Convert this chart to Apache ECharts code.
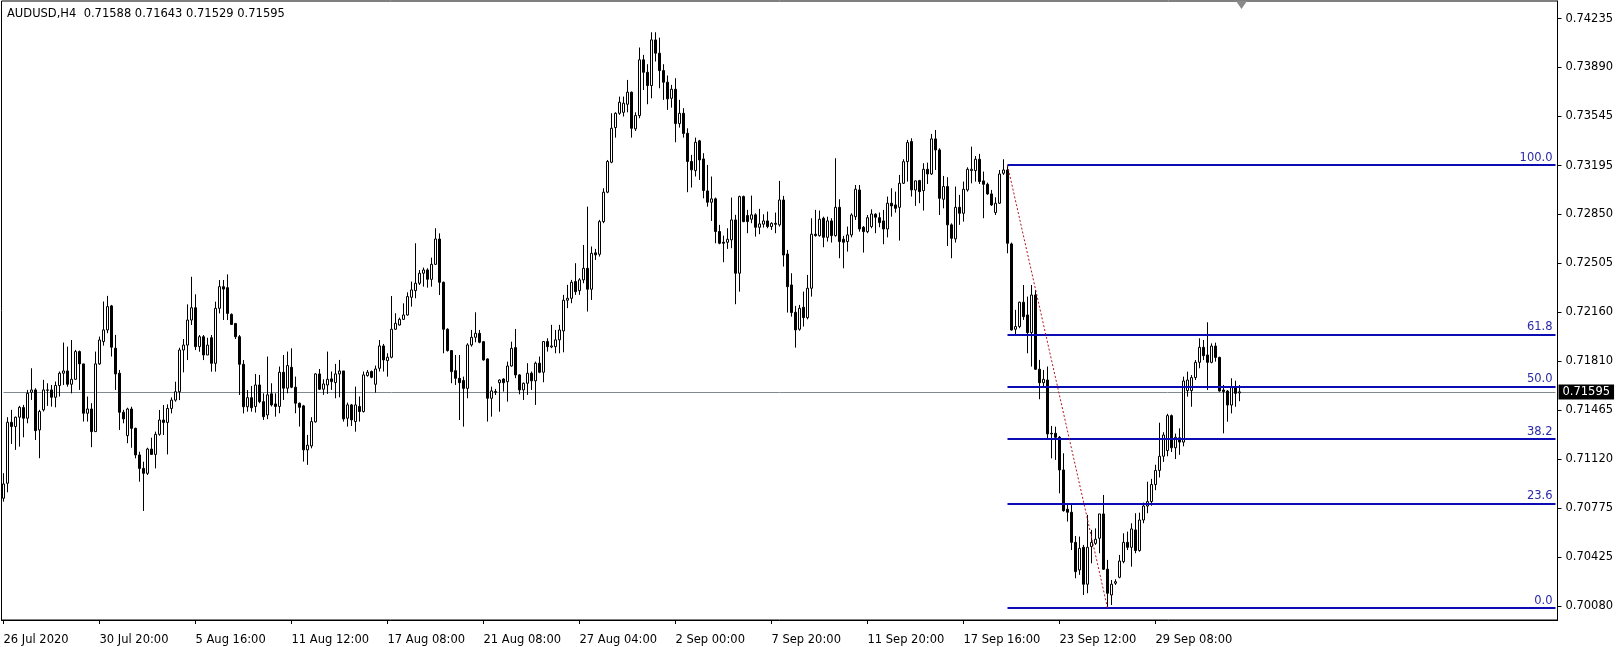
<!DOCTYPE html>
<html>
<head>
<meta charset="utf-8">
<script src="https://cdn.jsdelivr.net/npm/echarts@6/dist/echarts.min.js"></script>
<style>
html,body{margin:0;padding:0;background:#fff;}
#c{width:1619px;height:647px;}
</style>
</head>
<body>
<div id="c"></div>
<script>
const titleText = 'AUDUSD,H4  0.71588 0.71643 0.71529 0.71595';

const open = [
0.70843,0.70949,0.7138,0.7135,0.71416,0.71484,0.71409,0.71592,0.71609,0.71326,
0.71468,0.71609,0.71609,0.71557,0.7164,0.71727,0.71743,0.71649,0.71684,0.7188,
0.71793,0.71444,0.71474,0.71314,0.71793,0.71951,0.72033,0.72203,0.71904,0.71727,
0.71451,0.71286,0.71474,0.71337,0.71149,0.71054,0.71019,0.71191,0.71153,0.71295,
0.71396,0.71379,0.71478,0.71537,0.71596,0.71891,0.71926,0.72103,0.7219,0.71915,
0.71985,0.71856,0.71978,0.71797,0.72186,0.72339,0.72332,0.72143,0.72079,0.71985,
0.7179,0.7149,0.71554,0.71492,0.71644,0.71526,0.71432,0.71581,0.7151,0.71492,
0.71734,0.71621,0.71769,0.71628,0.71515,0.71496,0.71185,0.71213,0.71383,0.71722,
0.71614,0.71644,0.71687,0.71661,0.71722,0.71743,0.71409,0.71503,0.71385,0.71492,
0.71456,0.7171,0.71739,0.71649,0.71762,0.7192,0.71816,0.7184,0.72038,0.72068,
0.72108,0.72139,0.72264,0.72311,0.72363,0.72434,0.72457,0.72391,0.72497,0.72676,
0.7237,0.72038,0.71887,0.71745,0.71691,0.71675,0.7162,0.71927,0.71981,0.72009,
0.7195,0.71828,0.7155,0.71597,0.7166,0.71686,0.71667,0.71778,0.71908,0.71715,
0.71609,0.71656,0.71727,0.71673,0.71798,0.71734,0.71951,0.71913,0.71915,0.71963,
0.72026,0.72243,0.72257,0.72375,0.72311,0.72387,0.72469,0.72321,0.72578,0.72568,
0.72799,0.73007,0.73219,0.73464,0.73565,0.73572,0.73629,0.73714,0.73455,0.73549,
0.73943,0.73855,0.73761,0.74084,0.7399,0.73867,0.73785,0.73671,0.73735,0.73492,
0.73565,0.73424,0.73224,0.7316,0.7337,0.73242,0.73016,0.72936,0.7296,0.72729,
0.72653,0.72653,0.7267,0.72811,0.72434,0.72976,0.72842,0.72816,0.72847,0.72759,
0.72781,0.72804,0.72764,0.72787,0.72776,0.72952,0.7257,0.72351,0.72158,0.72038,
0.72193,0.7212,0.72328,0.7271,0.727,0.72823,0.72688,0.72804,0.727,0.729,
0.72674,0.72658,0.72705,0.72834,0.73023,0.72759,0.72728,0.72764,0.72851,0.72827,
0.72804,0.72747,0.72929,0.72917,0.729,0.7307,0.73223,0.73365,0.73023,0.73089,
0.73018,0.73169,0.73136,0.73384,0.73306,0.72957,0.73047,0.72776,0.72677,0.729,
0.72858,0.73023,0.7316,0.7316,0.7324,0.73087,0.73063,0.72995,0.72863,0.72929,
0.73141,0.73164,0.72641,0.72038,0.72057,0.72229,0.72139,0.72014,0.7228,0.71755,
0.7166,0.71679,0.71302,0.71302,0.71274,0.71043,0.70765,0.70744,0.70531,0.70336,
0.70496,0.70235,0.70501,0.70524,0.7056,0.70732,0.70341,0.70159,0.70242,0.70284,
0.70395,0.70531,0.70496,0.70619,0.70473,0.70689,0.70788,0.7082,0.7094,0.7104,
0.7114,0.7118,0.71427,0.712,0.7127,0.7124,0.71604,0.71604,0.71696,0.71804,
0.7191,0.71856,0.71804,0.71919,0.71839,0.71608,0.71601,0.71502,0.71632,0.71588
];

const close = [
0.70944,0.7138,0.7135,0.71416,0.71486,0.71409,0.71585,0.71609,0.71321,0.71456,
0.71609,0.71607,0.71557,0.7164,0.71727,0.71743,0.71649,0.71684,0.7188,0.71793,
0.71444,0.71474,0.71314,0.71793,0.71962,0.72033,0.72198,0.71911,0.71722,0.71451,
0.71404,0.71474,0.71337,0.71149,0.71054,0.71019,0.71191,0.71153,0.71295,0.71396,
0.71379,0.71478,0.71537,0.71596,0.71891,0.71926,0.72103,0.7219,0.71915,0.71985,
0.71856,0.71926,0.71797,0.72186,0.72339,0.72322,0.7215,0.72072,0.71985,0.7179,
0.7149,0.71554,0.71483,0.71644,0.71526,0.7142,0.71574,0.71503,0.71492,0.71734,
0.71621,0.71781,0.71628,0.71515,0.71486,0.71185,0.71218,0.71385,0.71722,0.71614,
0.71651,0.71684,0.71668,0.71722,0.71743,0.71404,0.71503,0.71397,0.71503,0.71456,
0.71715,0.71734,0.71698,0.71757,0.7192,0.71821,0.7184,0.72038,0.7208,0.72108,
0.72139,0.72269,0.72316,0.72363,0.72434,0.72457,0.72391,0.72497,0.72676,0.7237,
0.72038,0.71887,0.71738,0.71691,0.7166,0.7162,0.71927,0.71981,0.72009,0.71946,
0.71821,0.7155,0.71602,0.71592,0.71679,0.7166,0.71778,0.71903,0.71715,0.71609,
0.71656,0.71727,0.71673,0.71798,0.71734,0.71951,0.71915,0.7192,0.71963,0.72033,
0.72243,0.72257,0.7237,0.72304,0.72387,0.72469,0.72321,0.72575,0.72564,0.72799,
0.73007,0.73224,0.73459,0.73565,0.73643,0.73636,0.73714,0.73459,0.73549,0.73943,
0.73855,0.73761,0.74084,0.7399,0.73867,0.73785,0.73667,0.73735,0.73492,0.73565,
0.73422,0.73224,0.73165,0.7336,0.73235,0.73019,0.72936,0.7296,0.72729,0.72646,
0.72646,0.72674,0.72811,0.72434,0.72976,0.72799,0.72799,0.72847,0.72759,0.72783,
0.72804,0.72764,0.72787,0.7278,0.72952,0.72563,0.72339,0.72156,0.72033,0.72186,
0.7212,0.72328,0.7271,0.727,0.72816,0.72688,0.72804,0.727,0.729,0.72658,
0.72653,0.72705,0.72846,0.73028,0.72747,0.72728,0.72827,0.72853,0.7283,0.72792,
0.72747,0.72929,0.7291,0.72893,0.7307,0.73223,0.73358,0.73023,0.73087,0.73011,
0.73169,0.73136,0.73384,0.73306,0.72964,0.73047,0.72776,0.72681,0.729,0.72858,
0.73028,0.73169,0.73169,0.7324,0.73082,0.73063,0.72995,0.72917,0.72929,0.73136,
0.73164,0.72646,0.72033,0.72057,0.72229,0.72127,0.72014,0.7228,0.71755,0.7166,
0.71684,0.71298,0.71298,0.71274,0.71043,0.70755,0.70744,0.70531,0.70324,0.70489,
0.70235,0.70496,0.70531,0.70553,0.70732,0.70341,0.70171,0.70235,0.70253,0.70399,
0.70531,0.70496,0.70626,0.70473,0.70689,0.70788,0.70819,0.7094,0.7104,0.7114,
0.7129,0.71427,0.712,0.71274,0.7124,0.71672,0.71679,0.71696,0.71804,0.7191,
0.71851,0.71804,0.71919,0.71839,0.71601,0.71597,0.71502,0.71632,0.71585,0.71595
];

const low = [
0.70819,0.70885,0.71227,0.71185,0.71208,0.71274,0.71373,0.71538,0.71255,0.71126,
0.71456,0.71496,0.71491,0.71486,0.71562,0.71644,0.71632,0.71585,0.7168,0.71609,
0.71385,0.71385,0.71204,0.71314,0.71786,0.71922,0.7201,0.71845,0.71609,0.71326,
0.71373,0.71232,0.712,0.71125,0.7096,0.70753,0.71007,0.71149,0.71054,0.71285,
0.7129,0.71153,0.71443,0.71526,0.71537,0.71733,0.7182,0.72068,0.71891,0.71879,
0.7182,0.71856,0.71738,0.71738,0.7215,0.72103,0.72103,0.72068,0.71969,0.71573,
0.71443,0.71455,0.71455,0.71449,0.71515,0.71397,0.71402,0.71492,0.7142,0.71444,
0.71538,0.71585,0.71621,0.71444,0.7135,0.71102,0.71079,0.71196,0.71378,0.71609,
0.71574,0.71581,0.71609,0.7155,0.71557,0.71385,0.7135,0.71354,0.71314,0.71385,
0.71449,0.71703,0.71691,0.7159,0.71739,0.71739,0.71703,0.71832,0.72033,0.72064,
0.72104,0.72134,0.72198,0.72257,0.72351,0.72339,0.72332,0.72339,0.72492,0.7228,
0.71868,0.7188,0.71656,0.71644,0.71396,0.71349,0.7155,0.71915,0.71946,0.71939,
0.71816,0.71385,0.7142,0.71573,0.71455,0.71597,0.71526,0.71774,0.71692,0.71578,
0.71538,0.71574,0.71609,0.71503,0.71727,0.71663,0.7188,0.71904,0.71868,0.71868,
0.71875,0.72187,0.72222,0.72281,0.72281,0.72363,0.72163,0.72245,0.72528,0.72552,
0.72788,0.73,0.73212,0.73393,0.73554,0.73542,0.73572,0.73393,0.7344,0.7353,
0.7373,0.73629,0.73671,0.73931,0.73742,0.7366,0.73589,0.73605,0.7336,0.73464,
0.73393,0.73007,0.7304,0.73118,0.73094,0.72964,0.72905,0.72804,0.72646,0.72639,
0.72512,0.72606,0.72611,0.72215,0.72304,0.72795,0.72717,0.72788,0.72693,0.7271,
0.72757,0.72752,0.7274,0.72717,0.72764,0.72481,0.72156,0.72127,0.71908,0.72028,
0.72057,0.72108,0.72269,0.72693,0.72693,0.72618,0.72658,0.72651,0.72693,0.7254,
0.72469,0.72587,0.72688,0.72811,0.72728,0.7258,0.72717,0.72752,0.72717,0.72759,
0.72639,0.72688,0.72834,0.72863,0.72665,0.73065,0.73082,0.72976,0.7291,0.72929,
0.72877,0.73065,0.73129,0.73164,0.72846,0.72893,0.72627,0.7254,0.72651,0.72776,
0.72799,0.73011,0.7307,0.73082,0.73065,0.72823,0.72988,0.7291,0.72846,0.72924,
0.73129,0.72575,0.72028,0.71991,0.72045,0.72104,0.71868,0.71774,0.7175,0.71543,
0.71632,0.71267,0.71125,0.71114,0.70878,0.70748,0.70678,0.70477,0.70277,0.70301,
0.70159,0.70171,0.70383,0.70513,0.70454,0.70336,0.70067,0.70088,0.7023,0.70277,
0.70383,0.70477,0.70359,0.70454,0.70465,0.70666,0.70737,0.7079,0.709,0.7099,
0.711,0.7114,0.7117,0.7112,0.7115,0.7121,0.71561,0.7149,0.71679,0.71762,
0.7182,0.71608,0.71797,0.71809,0.71597,0.71302,0.71384,0.71443,0.7149,0.71529
];

const high = [
0.7102,0.71416,0.71468,0.7142,0.71496,0.71503,0.71609,0.71762,0.71621,0.71468,
0.7168,0.71656,0.71644,0.71668,0.71739,0.71944,0.71915,0.71962,0.71892,0.71887,
0.71793,0.71562,0.71515,0.7188,0.71986,0.72234,0.72274,0.7221,0.71998,0.7175,
0.71468,0.71483,0.7149,0.71342,0.71172,0.71101,0.712,0.71271,0.71314,0.71467,
0.71502,0.71507,0.71556,0.71667,0.71907,0.71969,0.72214,0.72409,0.72285,0.71997,
0.71997,0.71978,0.71997,0.72233,0.72386,0.72386,0.72426,0.7215,0.72079,0.71997,
0.7182,0.71608,0.71637,0.71722,0.71715,0.71585,0.71845,0.71656,0.71585,0.71774,
0.71856,0.7188,0.71903,0.71703,0.71519,0.71503,0.71291,0.71416,0.71727,0.71757,
0.71684,0.7188,0.71739,0.71793,0.71821,0.71743,0.71519,0.7151,0.71632,0.71562,
0.71739,0.7175,0.71746,0.71781,0.71962,0.71934,0.71868,0.72273,0.72151,0.7212,
0.72221,0.72299,0.72375,0.72646,0.72457,0.72474,0.72469,0.72544,0.72752,0.72716,
0.72375,0.72045,0.71891,0.71856,0.71856,0.71703,0.71939,0.72033,0.72158,0.72033,
0.71955,0.71832,0.71632,0.71616,0.71684,0.71691,0.71809,0.7195,0.7204,0.7172,
0.71661,0.71798,0.71739,0.71809,0.71845,0.71951,0.71974,0.72069,0.72033,0.72069,
0.72281,0.72352,0.72387,0.72505,0.72399,0.72634,0.72905,0.72623,0.72606,0.72811,
0.73035,0.73235,0.73565,0.73572,0.73683,0.73683,0.73801,0.73719,0.73572,0.7403,
0.73978,0.73912,0.74138,0.74138,0.741,0.73912,0.73832,0.73766,0.73813,0.7366,
0.73601,0.73459,0.73271,0.73393,0.73377,0.73283,0.732,0.73118,0.72969,0.72776,
0.727,0.72752,0.72969,0.72847,0.72983,0.72983,0.72882,0.72983,0.72858,0.72889,
0.72851,0.7287,0.72794,0.72863,0.73087,0.72981,0.72599,0.72434,0.72203,0.7221,
0.72304,0.72422,0.72823,0.72882,0.72877,0.72834,0.72834,0.72823,0.73247,0.72957,
0.72698,0.72764,0.72858,0.73058,0.73058,0.72768,0.72846,0.72886,0.72858,0.72863,
0.72882,0.72976,0.73035,0.73011,0.73129,0.7324,0.73377,0.73388,0.73089,0.73094,
0.73212,0.73216,0.73419,0.73447,0.73318,0.73122,0.73113,0.72787,0.73047,0.72988,
0.73082,0.73183,0.73329,0.73263,0.73278,0.73153,0.73075,0.73023,0.72971,0.73164,
0.7324,0.73198,0.72651,0.72175,0.72233,0.72351,0.72269,0.72351,0.72316,0.71821,
0.7175,0.71774,0.71354,0.71349,0.71283,0.71161,0.70807,0.70807,0.70576,0.70572,
0.70513,0.70725,0.70619,0.7063,0.70732,0.70866,0.70407,0.70265,0.7027,0.70442,
0.70595,0.70607,0.70666,0.70737,0.70741,0.70812,0.7096,0.7098,0.7108,0.71377,
0.7131,0.7144,0.71435,0.713,0.71337,0.71703,0.71738,0.71714,0.7182,0.71974,
0.71962,0.72087,0.71938,0.71943,0.71844,0.71644,0.71608,0.71691,0.71674,0.71643
];

const xTickLabels = ['26 Jul 2020','30 Jul 20:00','5 Aug 16:00','11 Aug 12:00','17 Aug 08:00','21 Aug 08:00','27 Aug 04:00','2 Sep 00:00','7 Sep 20:00','11 Sep 20:00','17 Sep 16:00','23 Sep 12:00','29 Sep 08:00'];
const xTickStep = 24;
const slotCount = 389;

const yTickLabels = ['0.74235','0.73890','0.73545','0.73195','0.72850','0.72505','0.72160','0.71810','0.71465','0.71120','0.70775','0.70425','0.70080'];
const yMin = 0.69982;
const yMax = 0.74359;

const fibNames = ['100.0','61.8','50.0','38.2','23.6','0.0'];
const fibLevels = [0.73198, 0.72002, 0.71633, 0.71263, 0.70806, 0.70067];
const fibHighBar = 251;
const fibLowBar = 276;
const lastPrice = 0.71595;

const FONT = 'DejaVu Sans';
const categories = [];
for (let i = 0; i < slotCount; i++) {
  const k = i / xTickStep;
  categories.push(i % xTickStep === 0 && k < xTickLabels.length ? xTickLabels[k] : '');
}
const candles = open.map((o, i) => [o, close[i], low[i], high[i]]);
const yTickValues = yTickLabels.map(Number);

// current price line (behind everything else)
const priceLine = [[
  { coord: [0, lastPrice], lineStyle: { color: '#808890', width: 1, type: 'solid' },
    label: { show: true, position: 'end', formatter: lastPrice.toFixed(5), color: '#fff',
             backgroundColor: '#000', padding: [2, 4, 1, 4], fontSize: 11.5, fontFamily: FONT, distance: 3 } },
  { coord: [slotCount - 1, lastPrice] }
]];

const fibData = [];
fibLevels.forEach((lv, k) => {
  fibData.push([
    { coord: [fibHighBar, lv], lineStyle: { color: '#0c0cb4', width: 2, type: 'solid' },
      label: { show: true, position: 'insideEndTop', formatter: fibNames[k], color: '#2a2aa8',
               fontSize: 11.5, fontFamily: FONT, distance: [3, 1] } },
    { coord: [slotCount - 1, lv] }
  ]);
});
fibData.push([
  { coord: [fibHighBar, fibLevels[0]], lineStyle: { color: '#b0141e', width: 1, type: [2, 2] }, label: { show: false } },
  { coord: [fibLowBar, fibLevels[fibLevels.length - 1]] }
]);

const chart = echarts.init(document.getElementById('c'), null, { renderer: 'canvas' });
chart.setOption({
  animation: false,
  backgroundColor: '#fff',
  textStyle: { fontFamily: FONT },
  title: {
    text: titleText, left: 7, top: 8, padding: 0,
    textStyle: { fontSize: 11.5, fontWeight: 'normal', color: '#000', fontFamily: FONT }
  },
  grid: { left: 1.5, top: 1, width: 1556, height: 619, show: true, borderColor: '#000', borderWidth: 1, backgroundColor: '#fff' },
  xAxis: {
    type: 'category', data: categories, boundaryGap: true,
    axisLine: { show: true, lineStyle: { color: '#000', width: 1 } },
    axisTick: { show: true, alignWithLabel: true, length: 4, interval: (i, v) => v !== '', lineStyle: { color: '#000' } },
    axisLabel: { interval: (i, v) => v !== '', align: 'left', margin: 14, color: '#000', fontSize: 11.5, fontFamily: FONT },
    splitLine: { show: false }
  },
  yAxis: {
    type: 'value', position: 'right', min: yMin, max: yMax,
    axisLine: { show: true, lineStyle: { color: '#000', width: 1 } },
    axisTick: { show: true, length: 4, customValues: yTickValues, lineStyle: { color: '#000' } },
    axisLabel: { customValues: yTickValues, formatter: v => v.toFixed(5), margin: 8, color: '#000', fontSize: 11.5, fontFamily: FONT },
    splitLine: { show: false }
  },
  series: [
    {
      type: 'line', data: [], silent: true, z: 1,
      markLine: { silent: true, symbol: ['none', 'none'], animation: false, z: 1, data: priceLine }
    },
    {
      type: 'candlestick',
      data: candles,
      barWidth: 2.5,
      silent: true, z: 2,
      itemStyle: { color: '#ffffff', color0: '#000000', borderColor: '#000000', borderColor0: '#000000', borderWidth: 1 },
      emphasis: { disabled: true },
      markLine: { silent: true, symbol: ['none', 'none'], animation: false, data: fibData },
      markPoint: {
        silent: true, animation: false,
        data: [{ coord: [open.length - 1, yMax], symbol: 'triangle', symbolSize: [11, 8], symbolRotate: 180,
                 symbolOffset: [2, 4], itemStyle: { color: '#8a8a8a' }, label: { show: false } }]
      }
    }
  ]
});
</script>
</body>
</html>
